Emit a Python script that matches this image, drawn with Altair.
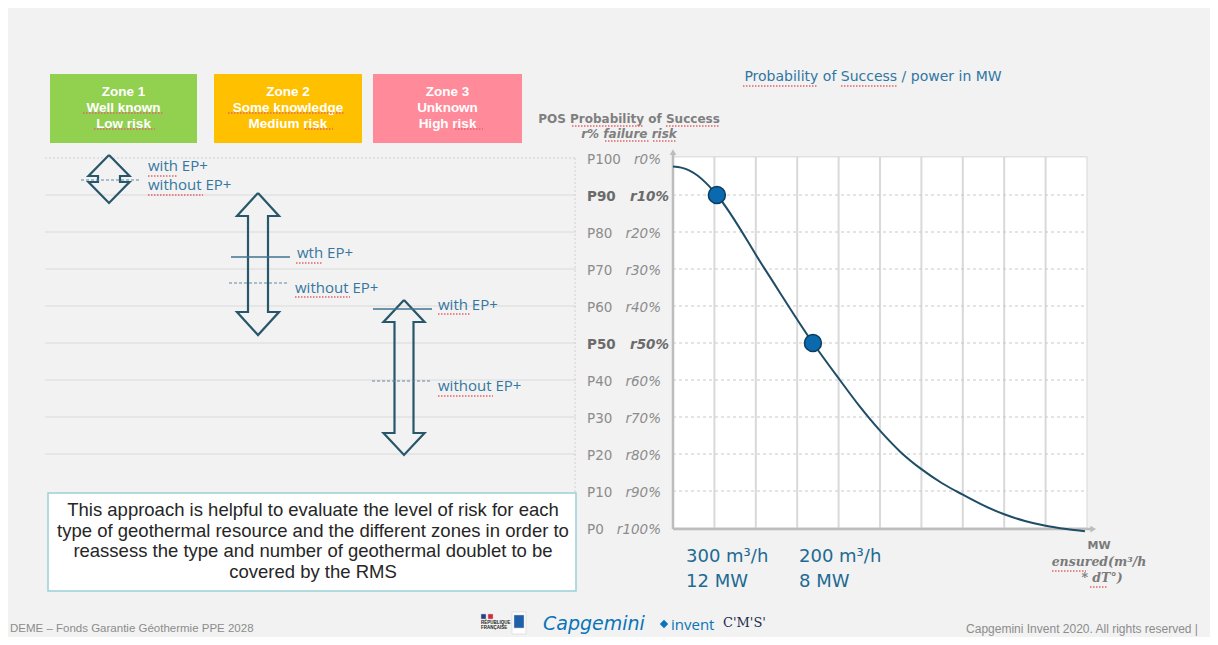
import altair as alt
import pandas as pd

# ----------------------------------------------------------------- data values
pos_levels = [100, 90, 80, 70, 60, 50, 40, 30, 20, 10, 0]
p_labels = ["P100", "P90", "P80", "P70", "P60", "P50", "P40", "P30", "P20", "P10", "P0"]
r_labels = ["r0%", "r10%", "r20%", "r30%", "r40%", "r50%", "r60%", "r70%", "r80%", "r90%", "r100%"]
key_levels = [90, 50]

mw_grid = [1, 2, 3, 4, 5, 6, 7, 8, 9]          # unlabelled MW grid columns
pos_grid = [10, 20, 30, 40, 50, 60, 70, 80, 90]
panel_levels = [90, 80, 70, 60, 50, 40, 30, 20]

curve_mw = [0, 0.2, 0.4, 0.6, 0.8, 1.06, 2.2, 3.38, 4.03, 4.5, 5.0, 5.5, 6.0, 6.5, 7.0,
            7.5, 8.0, 8.5, 9.0, 9.5, 9.95]
curve_pos = [97.7, 97.4, 96.6, 95.2, 93.2, 90, 70.3, 50, 40, 33.0, 26.3, 20.5, 15.9, 12.1,
             9.0, 6.1, 3.7, 1.9, 0.6, -0.3, -0.9]

point_mw = [1.06, 3.38]
point_pos = [90, 50]
point_flow = ["300 m³/h", "200 m³/h"]
point_power = ["12 MW", "8 MW"]

zone_names = ["Zone 1", "Zone 2", "Zone 3"]
zone_knowledge = ["Well known", "Some  knowledge", "Unknown"]
zone_risk = ["Low  risk", "Medium  risk", "High  risk"]
zone_colors = ["#92d050", "#ffc000", "#ff8a99"]

note_lines = [
    "This approach is helpful to evaluate the level of risk for each",
    "type of geothermal resource and the different zones in order to",
    "reassess the type and number of geothermal doublet to be",
    "covered by the RMS",
]

# ----------------------------------------------------------------- layout helpers
X0, XS = 673.0, 41.4     # slide px of MW origin, px per grid column
Y0, YS = 528.0, 3.7      # slide px of P0, px per POS point


def sx(px):
    return (px - X0) / XS


def sy(py):
    return (Y0 - py) / YS


xs = alt.Scale(domain=[0, 10], range=[X0 - 8, X0 - 8 + 10 * XS], nice=False, zero=False)
ys = alt.Scale(domain=[0, 100], range=[Y0 - 8, Y0 - 8 - 100 * YS], nice=False, zero=False)


def X(f="x"):
    return alt.X(f"{f}:Q", scale=xs, axis=None)


def Y(f="y"):
    return alt.Y(f"{f}:Q", scale=ys, axis=None)


def X2(f="x2"):
    return alt.X2(f"{f}:Q")


def Y2(f="y2"):
    return alt.Y2(f"{f}:Q")


def texts(rows, size, color, font="DejaVu Sans", weight="normal", style="normal",
          align="left", baseline="middle"):
    df = pd.DataFrame({"x": [sx(r[0]) for r in rows], "y": [sy(r[1]) for r in rows],
                       "t": [r[2] for r in rows]})
    return alt.Chart(df).mark_text(font=font, fontSize=size, color=color, fontWeight=weight,
                                   fontStyle=style, align=align, baseline=baseline).encode(
        x=X(), y=Y(), text="t:N")


def hrules(rows, color, width=1.0, dash=None):
    df = pd.DataFrame({"x": [sx(r[0]) for r in rows], "x2": [sx(r[1]) for r in rows],
                       "y": [sy(r[2]) for r in rows]})
    kw = dict(color=color, strokeWidth=width)
    if dash:
        kw["strokeDash"] = dash
    return alt.Chart(df).mark_rule(**kw).encode(x=X(), x2=X2(), y=Y())


layers = []

# ----------------------------------------------------------------- zone boxes
zone_x = [(50, 197), (214, 362), (373, 522)]
zdf = pd.DataFrame({"x": [sx(a) for a, b in zone_x], "x2": [sx(b) for a, b in zone_x],
                    "y": [sy(74)] * 3, "y2": [sy(143)] * 3, "c": zone_colors})
layers.append(alt.Chart(zdf).mark_rect().encode(x=X(), x2=X2(), y=Y(), y2=Y2(),
                                               color=alt.Color("c:N", scale=None)))
zrows = []
for (a, b), n, k, r in zip(zone_x, zone_names, zone_knowledge, zone_risk):
    c = (a + b) / 2
    zrows += [(c, 92, n), (c, 108, k), (c, 123.5, r)]
layers.append(texts(zrows, 13.5, "white", font="Liberation Sans", weight="bold", align="center"))

# ----------------------------------------------------------------- left panel guide lines
left_lines = [(45, 576, Y0 - YS * lv) for lv in panel_levels]
layers.append(hrules(left_lines, "#dadada", 1))
layers.append(hrules([(45, 576, Y0 - YS * 100)], "#cfcfcf", 1, [2, 2]))
vdf = pd.DataFrame({"x": [sx(575)], "y": [sy(158)], "y2": [sy(528)]})
layers.append(alt.Chart(vdf).mark_rule(color="#cfcfcf", strokeDash=[2, 2]).encode(
    x=X(), y=Y(), y2=Y2()))

# ----------------------------------------------------------------- double arrows


def double_arrow(name, cx, t, b, hl, hw, sw):
    pts = [(cx, t), (cx + hw, t + hl), (cx + sw, t + hl), (cx + sw, b - hl), (cx + hw, b - hl),
           (cx, b), (cx - hw, b - hl), (cx - sw, b - hl), (cx - sw, t + hl), (cx - hw, t + hl),
           (cx, t)]
    return [{"s": name, "i": i, "x": sx(p[0]), "y": sy(p[1])} for i, p in enumerate(pts)]


arr = []
arr += double_arrow("z1", 109, 155, 203, 21, 20.5, 11)
arr += double_arrow("z2", 258, 193, 335, 23, 21, 10)
arr += double_arrow("z3", 404, 300, 455, 22, 20.5, 9.5)
adf = pd.DataFrame(arr)
layers.append(alt.Chart(adf).mark_line(color="#28566b", strokeWidth=2.2).encode(
    x=X(), y=Y(), detail="s:N", order="i:Q"))

layers.append(hrules([(231, 290, 257), (373, 432, 309)], "#3f7390", 1.5))
layers.append(hrules([(81, 140, 180), (229, 288, 283), (372, 432, 381)], "#5f87a0", 1.2, [3, 2]))
layers.append(texts([(148, 166, "with EP+"), (148, 185, "without EP+"),
                     (297, 253, "wth EP+"), (295, 288, "without EP+"),
                     (438, 305, "with EP+"), (438, 386, "without EP+")],
                    15, "#3577a0", font="Open Sans"))

# ----------------------------------------------------------------- note box
bdf = pd.DataFrame({"x": [sx(48)], "x2": [sx(576)], "y": [sy(493)], "y2": [sy(591)]})
layers.append(alt.Chart(bdf).mark_rect(fill="white", stroke="#9ccfd9", strokeWidth=1.5).encode(
    x=X(), x2=X2(), y=Y(), y2=Y2()))
layers.append(texts([(313, 510 + 20.5 * i, s) for i, s in enumerate(note_lines)], 18.5,
                    "#262626", font="Liberation Sans", align="center"))

# ----------------------------------------------------------------- main chart: frame & grid
fdf = pd.DataFrame({"x": [0], "x2": [10], "y": [0], "y2": [100.3]})
layers.append(alt.Chart(fdf).mark_rect(fill="white", stroke="#d6d6d6", strokeWidth=1).encode(
    x=X(), x2=X2(), y=Y(), y2=Y2()))
gdf = pd.DataFrame({"x": mw_grid, "y": [0] * len(mw_grid), "y2": [100.3] * len(mw_grid)})
layers.append(alt.Chart(gdf).mark_rule(color="#d9d9d9", strokeWidth=2).encode(
    x=X(), y=Y(), y2=Y2()))
hdf = pd.DataFrame({"y": pos_grid, "x": [0] * len(pos_grid), "x2": [10] * len(pos_grid)})
layers.append(alt.Chart(hdf).mark_rule(color="#c9c9c9", strokeDash=[3, 3], strokeWidth=1).encode(
    x=X(), x2=X2(), y=Y()))

# axes with arrow tips
axdf = pd.DataFrame({"x": [0, 0], "x2": [0, 10.1], "y": [-0.3, -0.3], "y2": [101.2, -0.3]})
layers.append(alt.Chart(axdf).mark_rule(color="#bdbdbd", strokeWidth=2.5).encode(
    x=X(), x2=X2(), y=Y(), y2=Y2()))
tdf = pd.DataFrame({"x": [0, 10.15], "y": [101.6, -0.3], "sh": ["triangle-up", "triangle-right"]})
layers.append(alt.Chart(tdf).mark_point(filled=True, color="#bdbdbd", size=45, opacity=1).encode(
    x=X(), y=Y(), shape=alt.Shape("sh:N", scale=None)))

# y labels
lab = pd.DataFrame({"y": pos_levels, "p": p_labels, "r": r_labels})
lab["key"] = lab["y"].isin(key_levels)
lab["xp"] = sx(587)
lab["xr"] = [sx(669) if k else sx(661) for k in lab["key"]]
lab["yt"] = lab["y"] - 0.6
reg = lab[~lab["key"]]
bold = lab[lab["key"]]
layers.append(alt.Chart(reg).mark_text(font="DejaVu Sans", fontSize=13.5, color="#8c8c8c",
                                       align="left", baseline="middle").encode(
    x=X("xp"), y=Y("yt"), text="p:N"))
layers.append(alt.Chart(reg).mark_text(font="DejaVu Sans", fontSize=13.5, color="#8c8c8c",
                                       fontStyle="italic", align="right", baseline="middle").encode(
    x=X("xr"), y=Y("yt"), text="r:N"))
layers.append(alt.Chart(bold).mark_text(font="DejaVu Sans", fontSize=13.5, color="#6b6b6b",
                                        fontWeight="bold", align="left", baseline="middle").encode(
    x=X("xp"), y=Y("yt"), text="p:N"))
layers.append(alt.Chart(bold).mark_text(font="DejaVu Sans", fontSize=13.5, color="#6b6b6b",
                                        fontWeight="bold", fontStyle="italic", align="right",
                                        baseline="middle").encode(
    x=X("xr"), y=Y("yt"), text="r:N"))

# curve & points
cdf = pd.DataFrame({"x": curve_mw, "y": curve_pos})
layers.append(alt.Chart(cdf).mark_line(interpolate="monotone", color="#1f4d66",
                                       strokeWidth=2).encode(x=X(), y=Y()))
pdf = pd.DataFrame({"x": point_mw, "y": point_pos, "flow": point_flow, "power": point_power})
layers.append(alt.Chart(pdf).mark_circle(size=290, fill="#0b69ad", stroke="#0b3d60",
                                         strokeWidth=1.5, opacity=1).encode(x=X(), y=Y()))
pdf["lx"] = [sx(686), sx(799)]
pdf["l1"] = sy(557)
pdf["l2"] = sy(582)
layers.append(alt.Chart(pdf).mark_text(font="DejaVu Sans", fontSize=18, color="#1d6a93",
                                       align="left", baseline="middle").encode(
    x=X("lx"), y=Y("l1"), text="flow:N"))
layers.append(alt.Chart(pdf).mark_text(font="DejaVu Sans", fontSize=18, color="#1d6a93",
                                       align="left", baseline="middle").encode(
    x=X("lx"), y=Y("l2"), text="power:N"))

# axis titles
layers.append(texts([(1099, 546, "MW")], 11, "#7a7a7a", weight="bold", align="center"))
layers.append(texts([(1099, 562, "ensured(m³/h"), (1102, 578, "* dT°)")], 12.5, "#7a7a7a",
                    font="DejaVu Serif", weight="bold", style="italic", align="center"))
layers.append(texts([(629, 119, "POS Probability of Success")], 12, "#7f7f7f",
                    weight="bold", align="center"))
layers.append(texts([(629, 134, "r% failure  risk")], 12, "#7f7f7f", weight="bold",
                    style="italic", align="center"))
layers.append(texts([(873, 77, "Probability of Success / power in MW")], 14, "#2f76a3",
                    align="center"))

# spell-check squiggles
squig = [(83, 163, 113), (94, 155, 129), (228, 345, 113), (305, 333, 129), (455, 483, 129),
         (743, 818, 86), (841, 897, 86), (572, 643, 126), (666, 720, 126), (605, 649, 141),
         (653, 677, 141), (148, 178, 176), (148, 203, 195), (296, 323, 263), (295, 350, 297),
         (438, 470, 314), (438, 493, 396), (1052, 1086, 571), (1090, 1107, 587)]
layers.append(hrules(squig, "#e2646b", 1.3, [1.5, 1.5]))

# ----------------------------------------------------------------- footer
layers.append(texts([(10, 629, "DEME – Fonds Garantie Géothermie PPE 2028")], 11.5, "#8c8c8c",
                    font="Liberation Sans"))
layers.append(texts([(1198, 629, "Capgemini Invent 2020. All rights reserved |")], 12,
                    "#8c8c8c", font="Liberation Sans", align="right"))
layers.append(texts([(543, 624, "Capgemini")], 19, "#0a74b8", font="DejaVu Sans", style="italic"))
layers.append(texts([(671, 625, "invent")], 15, "#0a74b8", font="Open Sans"))
layers.append(texts([(723, 623, "C'M'S'")], 13, "#1b2b4b", font="DejaVu Serif"))
logo = pd.DataFrame({"x": [sx(481), sx(488), sx(512), sx(514)],
                     "x2": [sx(486), sx(493), sx(526), sx(524)],
                     "y": [sy(614), sy(614), sy(612), sy(615)],
                     "y2": [sy(619), sy(619), sy(634), sy(628)],
                     "c": ["#233e8b", "#d9253c", "#ffffff", "#1f5fa8"]})
layers.append(alt.Chart(logo).mark_rect(stroke="#c9c9c9", strokeWidth=0.5).encode(
    x=X(), x2=X2(), y=Y(), y2=Y2(), color=alt.Color("c:N", scale=None)))
layers.append(texts([(481, 623, "RÉPUBLIQUE"), (481, 628, "FRANÇAISE")], 4.5, "#222222",
                    font="Liberation Sans", weight="bold"))
spade = pd.DataFrame({"x": [sx(664)], "y": [sy(624)]})
layers.append(alt.Chart(spade).mark_point(shape="diamond", filled=True, size=70, color="#0a74b8",
                                          opacity=1).encode(x=X(), y=Y()))

chart = alt.layer(*layers).properties(
    width=1202, height=629, padding=0, autosize="none", background="#f2f2f2"
).configure_view(stroke=None)

chart.save("out.html", embed_options={"renderer": "svg", "actions": False})
